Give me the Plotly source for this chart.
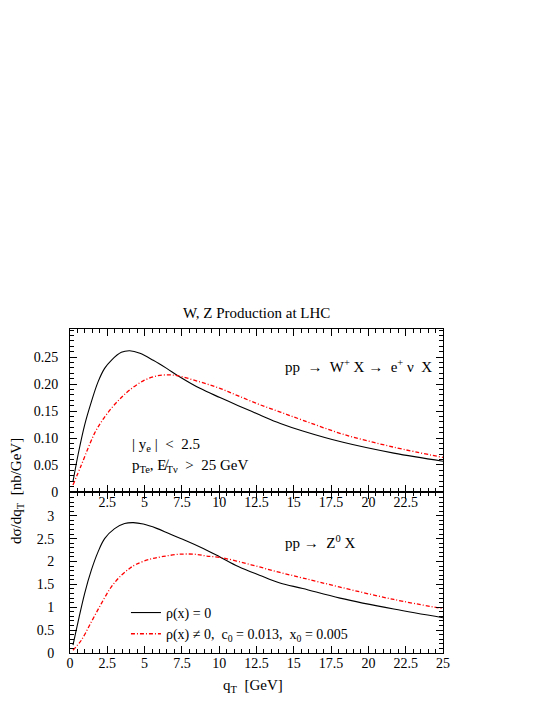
import plotly.graph_objects as go
from plotly.subplots import make_subplots

# W+ production (top panel)
qt_w = [0.2, 0.54, 0.98, 1.43, 1.88, 2.32, 2.77, 3.44, 4.0, 4.69, 5.58, 6.48, 7.26, 8.71, 10.05,
        11.28, 12.7, 14.1, 15.6, 18.3, 21.7, 25.0]
w_rho0 = [0.019, 0.069, 0.124, 0.167, 0.204, 0.229, 0.244, 0.2587, 0.2617, 0.257, 0.244, 0.229, 0.215,
          0.192, 0.175, 0.160, 0.143, 0.127, 0.113, 0.092, 0.072, 0.057]
qt_w2 = [0.2, 0.76, 1.21, 1.65, 2.1, 2.77, 3.44, 4.0, 4.91, 5.81, 6.59, 7.26, 8.71, 10.05, 11.28,
         12.7, 14.1, 15.6, 18.3, 21.7, 25.0]
w_rho = [0.013, 0.05, 0.081, 0.109, 0.130, 0.155, 0.175, 0.189, 0.206, 0.215, 0.217, 0.215, 0.204,
         0.192, 0.178, 0.162, 0.148, 0.133, 0.107, 0.083, 0.064]

# Z0 production (bottom panel)
qt_z = [0.2, 0.54, 0.98, 1.43, 1.88, 2.32, 2.99, 3.66, 4.24, 4.91, 5.81, 6.7, 7.82, 8.93, 10.05,
        11.28, 12.7, 14.07, 15.6, 18.1, 21.7, 25.0]
z_rho0 = [0.17, 0.68, 1.30, 1.81, 2.21, 2.50, 2.72, 2.83, 2.85, 2.818, 2.724, 2.60, 2.45, 2.286, 2.10,
          1.89, 1.70, 1.53, 1.41, 1.20, 0.96, 0.77]
qt_z2 = [0.2, 0.76, 1.43, 2.1, 2.77, 3.44, 4.0, 4.44, 5.36, 6.25, 7.37, 8.49, 9.16, 10.05, 11.28,
         12.7, 14.07, 15.6, 18.1, 21.7, 25.0]
z_rho = [0.06, 0.28, 0.68, 1.08, 1.445, 1.70, 1.85, 1.94, 2.05, 2.11, 2.16, 2.155, 2.12, 2.09, 2.00,
         1.88, 1.76, 1.64, 1.44, 1.17, 0.97]

top_yticks = [0, 0.05, 0.10, 0.15, 0.20, 0.25]
top_ytext = ["0", "0.05", "0.10", "0.15", "0.20", "0.25"]
bot_yticks = [0, 0.5, 1, 1.5, 2, 2.5, 3]
top_xticks = [2.5, 5, 7.5, 10, 12.5, 15, 17.5, 20, 22.5]
bot_xticks = [0, 2.5, 5, 7.5, 10, 12.5, 15, 17.5, 20, 22.5, 25]

font_family = "Liberation Serif, Times New Roman, serif"
red_dash = "4px,2px,1px,2px"

fig = make_subplots(rows=2, cols=1, vertical_spacing=0)

fig.add_trace(go.Scatter(x=qt_w, y=w_rho0, mode="lines", line=dict(color="black", width=1.1, shape="spline"),
                         name="ρ(x) = 0", showlegend=False), row=1, col=1)
fig.add_trace(go.Scatter(x=qt_w2, y=w_rho, mode="lines", line=dict(color="red", width=1.3, dash=red_dash, shape="spline"),
                         name="ρ(x) ≠ 0", showlegend=False), row=1, col=1)
fig.add_trace(go.Scatter(x=qt_z, y=z_rho0, mode="lines", line=dict(color="black", width=1.1, shape="spline"),
                         name="ρ(x) = 0"), row=2, col=1)
fig.add_trace(go.Scatter(x=qt_z2, y=z_rho, mode="lines", line=dict(color="red", width=1.3, dash=red_dash, shape="spline"),
                         name="ρ(x) ≠ 0,  c<sub>0</sub> = 0.013,  x<sub>0</sub> = 0.005"), row=2, col=1)

axis_common = dict(showgrid=False, zeroline=False, showline=True, linecolor="black", linewidth=1,
                   mirror="ticks", ticks="inside", ticklen=7, tickcolor="black",
                   tickfont=dict(size=14, color="black"))

fig.update_xaxes(range=[0, 25], tickvals=top_xticks, ticklabelstandoff=-3,
                 minor=dict(dtick=0.5, ticks="inside", ticklen=4, tickcolor="black"),
                 **axis_common, row=1, col=1)
fig.update_xaxes(range=[0, 25], tickvals=bot_xticks, ticklabelstandoff=-3,
                 minor=dict(dtick=0.5, ticks="inside", ticklen=4, tickcolor="black"),
                 **axis_common, row=2, col=1)
fig.update_yaxes(range=[0, 0.302], tickvals=top_yticks, ticktext=top_ytext, domain=[0.497, 1],
                 ticklabelstandoff=8,
                 minor=dict(dtick=0.01, ticks="inside", ticklen=4, tickcolor="black"),
                 **axis_common, row=1, col=1)
fig.update_yaxes(range=[0, 3.52], tickvals=bot_yticks, domain=[0, 0.497],
                 ticklabelstandoff=12,
                 minor=dict(dtick=0.1, ticks="inside", ticklen=4, tickcolor="black"),
                 **axis_common, row=2, col=1)

ann_font = dict(size=15, color="black", family=font_family)
fig.add_annotation(x=14.3, y=0.233, xref="x", yref="y", xanchor="left", showarrow=False, font=ann_font,
                   text="pp  →  W<sup>+</sup> X →  e<sup>+</sup> ν  X")
fig.add_annotation(x=4.0, y=0.087, xref="x", yref="y", xanchor="left", showarrow=False, font=ann_font,
                   text="| y<sub>e</sub> |  <  2.5")
fig.add_annotation(x=4.0, y=0.048, xref="x", yref="y", xanchor="left", showarrow=False, font=ann_font,
                   text="p<sub>Te</sub>, E\u0338<sub>Tν</sub>  >  25 GeV")
fig.add_annotation(x=14.3, y=2.42, xref="x2", yref="y2", xanchor="left", showarrow=False, font=ann_font,
                   text="pp →  Z<sup>0</sup> X")
fig.add_annotation(x=0.5, y=1, xref="paper", yref="paper", yanchor="bottom", yshift=6, showarrow=False,
                   font=ann_font, text="W, Z Production at LHC")
fig.add_annotation(x=-0.142, y=0.5, xref="paper", yref="paper", xanchor="center", yanchor="middle",
                   showarrow=False, textangle=-90, font=ann_font, text="dσ/dq<sub>T</sub>  [nb/GeV]")
fig.add_annotation(x=0.49, y=0, xref="paper", yref="paper", yanchor="middle", yshift=-33, showarrow=False,
                   font=ann_font, text="q<sub>T</sub>  [GeV]")

# page body adds an 8px offset, so the figure is sized to fit inside the window
fig.update_layout(
    width=537, height=697,
    margin=dict(l=62, r=102, t=321, b=52),
    plot_bgcolor="white", paper_bgcolor="white",
    font=dict(family=font_family, color="black", size=14),
    legend=dict(x=0.15, y=0.173, xanchor="left", yanchor="top", bgcolor="rgba(0,0,0,0)",
                font=dict(size=14)),
)

fig.write_html("out.html")
